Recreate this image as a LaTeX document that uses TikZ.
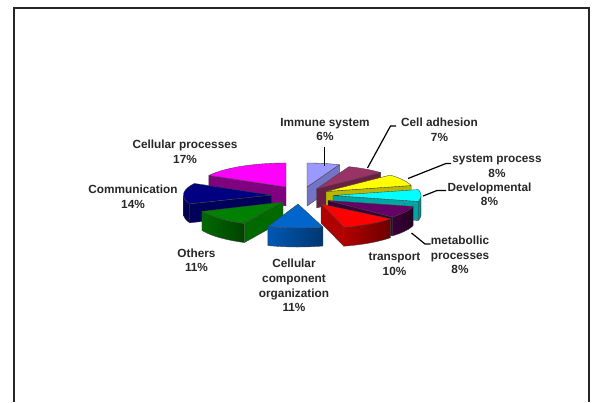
\documentclass[tikz,border=0pt]{standalone}
\usepackage{fontspec}
\setmainfont{Liberation Sans}
\definecolor{imtop}{HTML}{9999FF}\definecolor{imside}{HTML}{7373C8}
\definecolor{catop}{HTML}{993366}\definecolor{caside}{HTML}{6B1F45}
\definecolor{sptop}{HTML}{FFFF00}\definecolor{spside}{HTML}{B8B800}
\definecolor{dvtop}{HTML}{00FFFF}\definecolor{dvside}{HTML}{00A5A5}
\definecolor{mbtop}{HTML}{660066}\definecolor{mbside}{HTML}{3A0038}
\definecolor{trtop}{HTML}{FF0000}\definecolor{trside}{HTML}{B00000}
\definecolor{cctop}{HTML}{0066CC}\definecolor{ccside}{HTML}{0058B4}
\definecolor{ottop}{HTML}{008000}\definecolor{otside}{HTML}{006A00}
\definecolor{cmtop}{HTML}{000080}\definecolor{cmside}{HTML}{00005A}
\definecolor{cptop}{HTML}{FF00FF}\definecolor{cpside}{HTML}{800080}
\definecolor{txt}{HTML}{262626}
\newcommand\pslice[6]{%
  % outer side
  \pgfmathsetmacro\tA{max(#3,90)}%
  \pgfmathsetmacro\tB{min(#4,270)}%
  \ifdim\tA pt<\tB pt
    \draw[edge,left color=#6,right color=#6!62!black] plot[domain=\tA:\tB,samples=30] ({#1+\ra*sin(\x)},{#2-\rb*cos(\x)}) -- plot[domain=\tB:\tA,samples=30] ({#1+\ra*sin(\x)},{#2-\rb*cos(\x)+\hh}) -- cycle;
  \fi
  % start face
  \pgfmathsetmacro\sS{sin(#3)}%
  \ifdim\sS pt<-0.01pt
    \filldraw[edge,fill=#6] (#1,#2) -- ({#1+\ra*sin(#3)},{#2-\rb*cos(#3)}) -- ({#1+\ra*sin(#3)},{#2-\rb*cos(#3)+\hh}) -- (#1,#2+\hh) -- cycle;
  \fi
  % end face
  \pgfmathsetmacro\sE{sin(#4)}%
  \ifdim\sE pt>0.01pt
    \filldraw[edge,fill=#6] (#1,#2) -- ({#1+\ra*sin(#4)},{#2-\rb*cos(#4)}) -- ({#1+\ra*sin(#4)},{#2-\rb*cos(#4)+\hh}) -- (#1,#2+\hh) -- cycle;
  \fi
  % top face
  \filldraw[edge,fill=#5] (#1,#2) -- plot[domain=#3:#4,samples=30] ({#1+\ra*sin(\x)},{#2-\rb*cos(\x)}) -- cycle;
}
\begin{document}
\begin{tikzpicture}[x=1pt,y=-1pt,
  lbl/.style={font=\fontsize{11.8}{14.8}\selectfont\bfseries, text=txt, align=center, inner sep=0pt},
  lead/.style={draw=black, line width=1.2pt},
  edge/.style={draw=black!75, line width=0.35pt, line join=round}]
\useasboundingbox (0,0) rectangle (594,402);
\draw[line width=2pt, draw=black!85] (13.5,402) -- (13.5,7.5) -- (588.5,7.5) -- (588.5,402);
\def\ra{88}\def\rb{24}\def\hh{19}
% slices, back to front
\pslice{307}{187}{0}{21.6}{imtop}{imside}
\pslice{286}{187}{298.8}{360}{cptop}{cpside}
\pslice{316.5}{189}{21.6}{46.8}{catop}{caside}
\pslice{326}{191.5}{46.8}{75.6}{sptop}{spside}
\pslice{271.5}{195}{248.4}{298.8}{cmtop}{cmside}
\pslice{333}{195.5}{75.6}{104.4}{dvtop}{dvside}
\pslice{328}{200.5}{104.4}{133.2}{mbtop}{mbside}
\pslice{283}{202}{206}{247}{ottop}{otside}
\pslice{321}{204}{128}{165}{trtop}{trside}
\pslice{298}{204}{163.5}{200}{cctop}{ccside}
% labels
\node[lbl] (limm) at (325,129.5) {Immune system\\6\%};
\node[lbl] (lcad) at (439.5,129.5) {Cell adhesion\\7\%};
\node[lbl] (lsys) at (497,166.3) {system process\\8\%};
\node[lbl] (ldev) at (489.5,194.2) {Developmental\\8\%};
\node[lbl] (lmet) at (460,254.8) {metabollic\\processes\\8\%};
\node[lbl] (ltra) at (394.5,264.2) {transport\\10\%};
\node[lbl] (lccm) at (294,285.4) {Cellular\\component\\organization\\11\%};
\node[lbl] (loth) at (196.5,260.2) {Others\\11\%};
\node[lbl] (lcom) at (133,196.5) {Communication\\14\%};
\node[lbl] (lcpr) at (185,151.8) {Cellular processes\\17\%};
% leader lines
\coordinate (imA) at (324.5,146.5); \coordinate (imB) at (324.5,165.5);
\draw[lead] (imA) -- (imB);
\coordinate (caA) at (396,126); \coordinate (caB) at (390.5,126); \coordinate (caC) at (367.5,168);
\draw[lead] (caA) -- (caB) -- (caC);
\coordinate (spA) at (451,163.5); \coordinate (spB) at (446,163.5); \coordinate (spC) at (408,178.5);
\draw[lead] (spA) -- (spB) -- (spC);
\coordinate (dvA) at (446,190.5); \coordinate (dvB) at (437,190.5); \coordinate (dvC) at (423,196);
\draw[lead] (dvA) -- (dvB) -- (dvC);
\coordinate (mbA) at (430.5,244); \coordinate (mbB) at (425,244); \coordinate (mbC) at (411.5,233);
\draw[lead] (mbA) -- (mbB) -- (mbC);
\end{tikzpicture}
\end{document}
